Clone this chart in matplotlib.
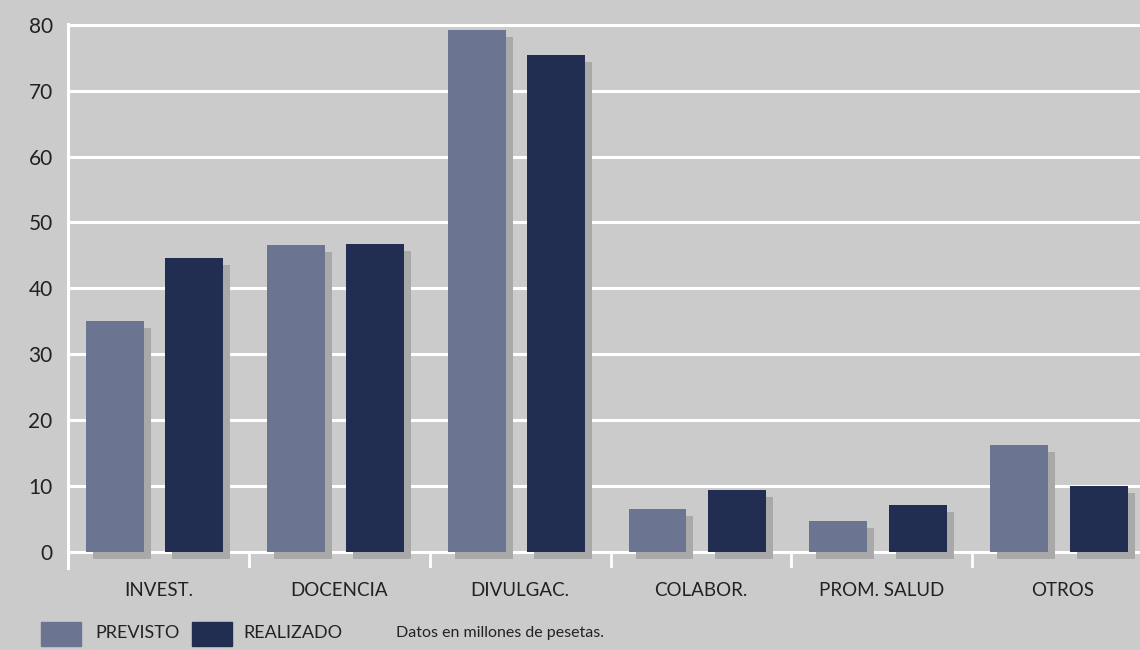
import matplotlib
matplotlib.use('Agg')
import matplotlib.pyplot as plt
from matplotlib.patches import Rectangle
import numpy as np

categories = ['INVEST.', 'DOCENCIA', 'DIVULGAC.', 'COLABOR.', 'PROM. SALUD', 'OTROS']
previsto = [35.0, 46.5, 79.2, 6.5, 4.6, 16.2]
realizado = [44.6, 46.8, 75.5, 9.4, 7.1, 10.0]
yticks = [0, 10, 20, 30, 40, 50, 60, 70, 80]
legend_labels = ['PREVISTO', 'REALIZADO']
note = 'Datos en millones de pesetas.'

bg = '#cbcbcb'
c_prev = '#6b7592'
c_real = '#212e52'
c_shadow = '#a9a9a9'
txt = '#222222'

plt.rcParams['font.family'] = ['Lato', 'DejaVu Sans']

fig = plt.figure(figsize=(11.4, 6.5), dpi=100, facecolor=bg)
# axes runs a bit past the right edge, like the original
ax = fig.add_axes([68 / 1140, 82 / 650, 1085 / 1140, 544 / 650])
ax.set_facecolor(bg)

n = len(categories)
x = np.arange(n) + 0.5
w = 0.32
off_p, off_r = -0.24, 0.199
# shadow offset: ~7 px right and down
sx = 7 / 180.8
sy = 7 / 65.9 * 10

for xs, vals, col in [(x + off_p, previsto, c_prev), (x + off_r, realizado, c_real)]:
    vals = np.array(vals)
    ax.bar(xs + sx, vals, w, bottom=-sy, color=c_shadow, zorder=2, linewidth=0)
    ax.bar(xs, vals, w, color=col, zorder=3, linewidth=0)

ax.set_xlim(0, n)
ax.set_ylim(-2.5, 80.15)
ax.set_yticks(yticks)
ax.yaxis.grid(True, color='white', linewidth=2.2, zorder=1)
ax.set_axisbelow(True)
ax.vlines(np.arange(1, n), -2.5, 0, color='white', linewidth=2, zorder=1)

ax.set_xticks(x)
ax.set_xticklabels(categories)
ax.tick_params(axis='x', length=0, pad=10, labelsize=13.5, labelcolor=txt)
ax.tick_params(axis='y', length=0, pad=11, labelsize=15, labelcolor=txt)

for s in ['top', 'right', 'bottom']:
    ax.spines[s].set_visible(False)
ax.spines['left'].set_color('white')
ax.spines['left'].set_linewidth(2.2)

# legend row
fig.patches.append(Rectangle((41 / 1140, 4 / 650), 40 / 1140, 24 / 650,
                             transform=fig.transFigure, color=c_prev))
fig.patches.append(Rectangle((192 / 1140, 4 / 650), 40 / 1140, 24 / 650,
                             transform=fig.transFigure, color=c_real))
fig.text(95 / 1140, 17 / 650, legend_labels[0], fontsize=13, color=txt, va='center')
fig.text(243 / 1140, 17 / 650, legend_labels[1], fontsize=13, color=txt, va='center')
fig.text(396 / 1140, 17 / 650, note, fontsize=11.5, color=txt, va='center')

fig.savefig('out.png', dpi=100, facecolor=bg)
